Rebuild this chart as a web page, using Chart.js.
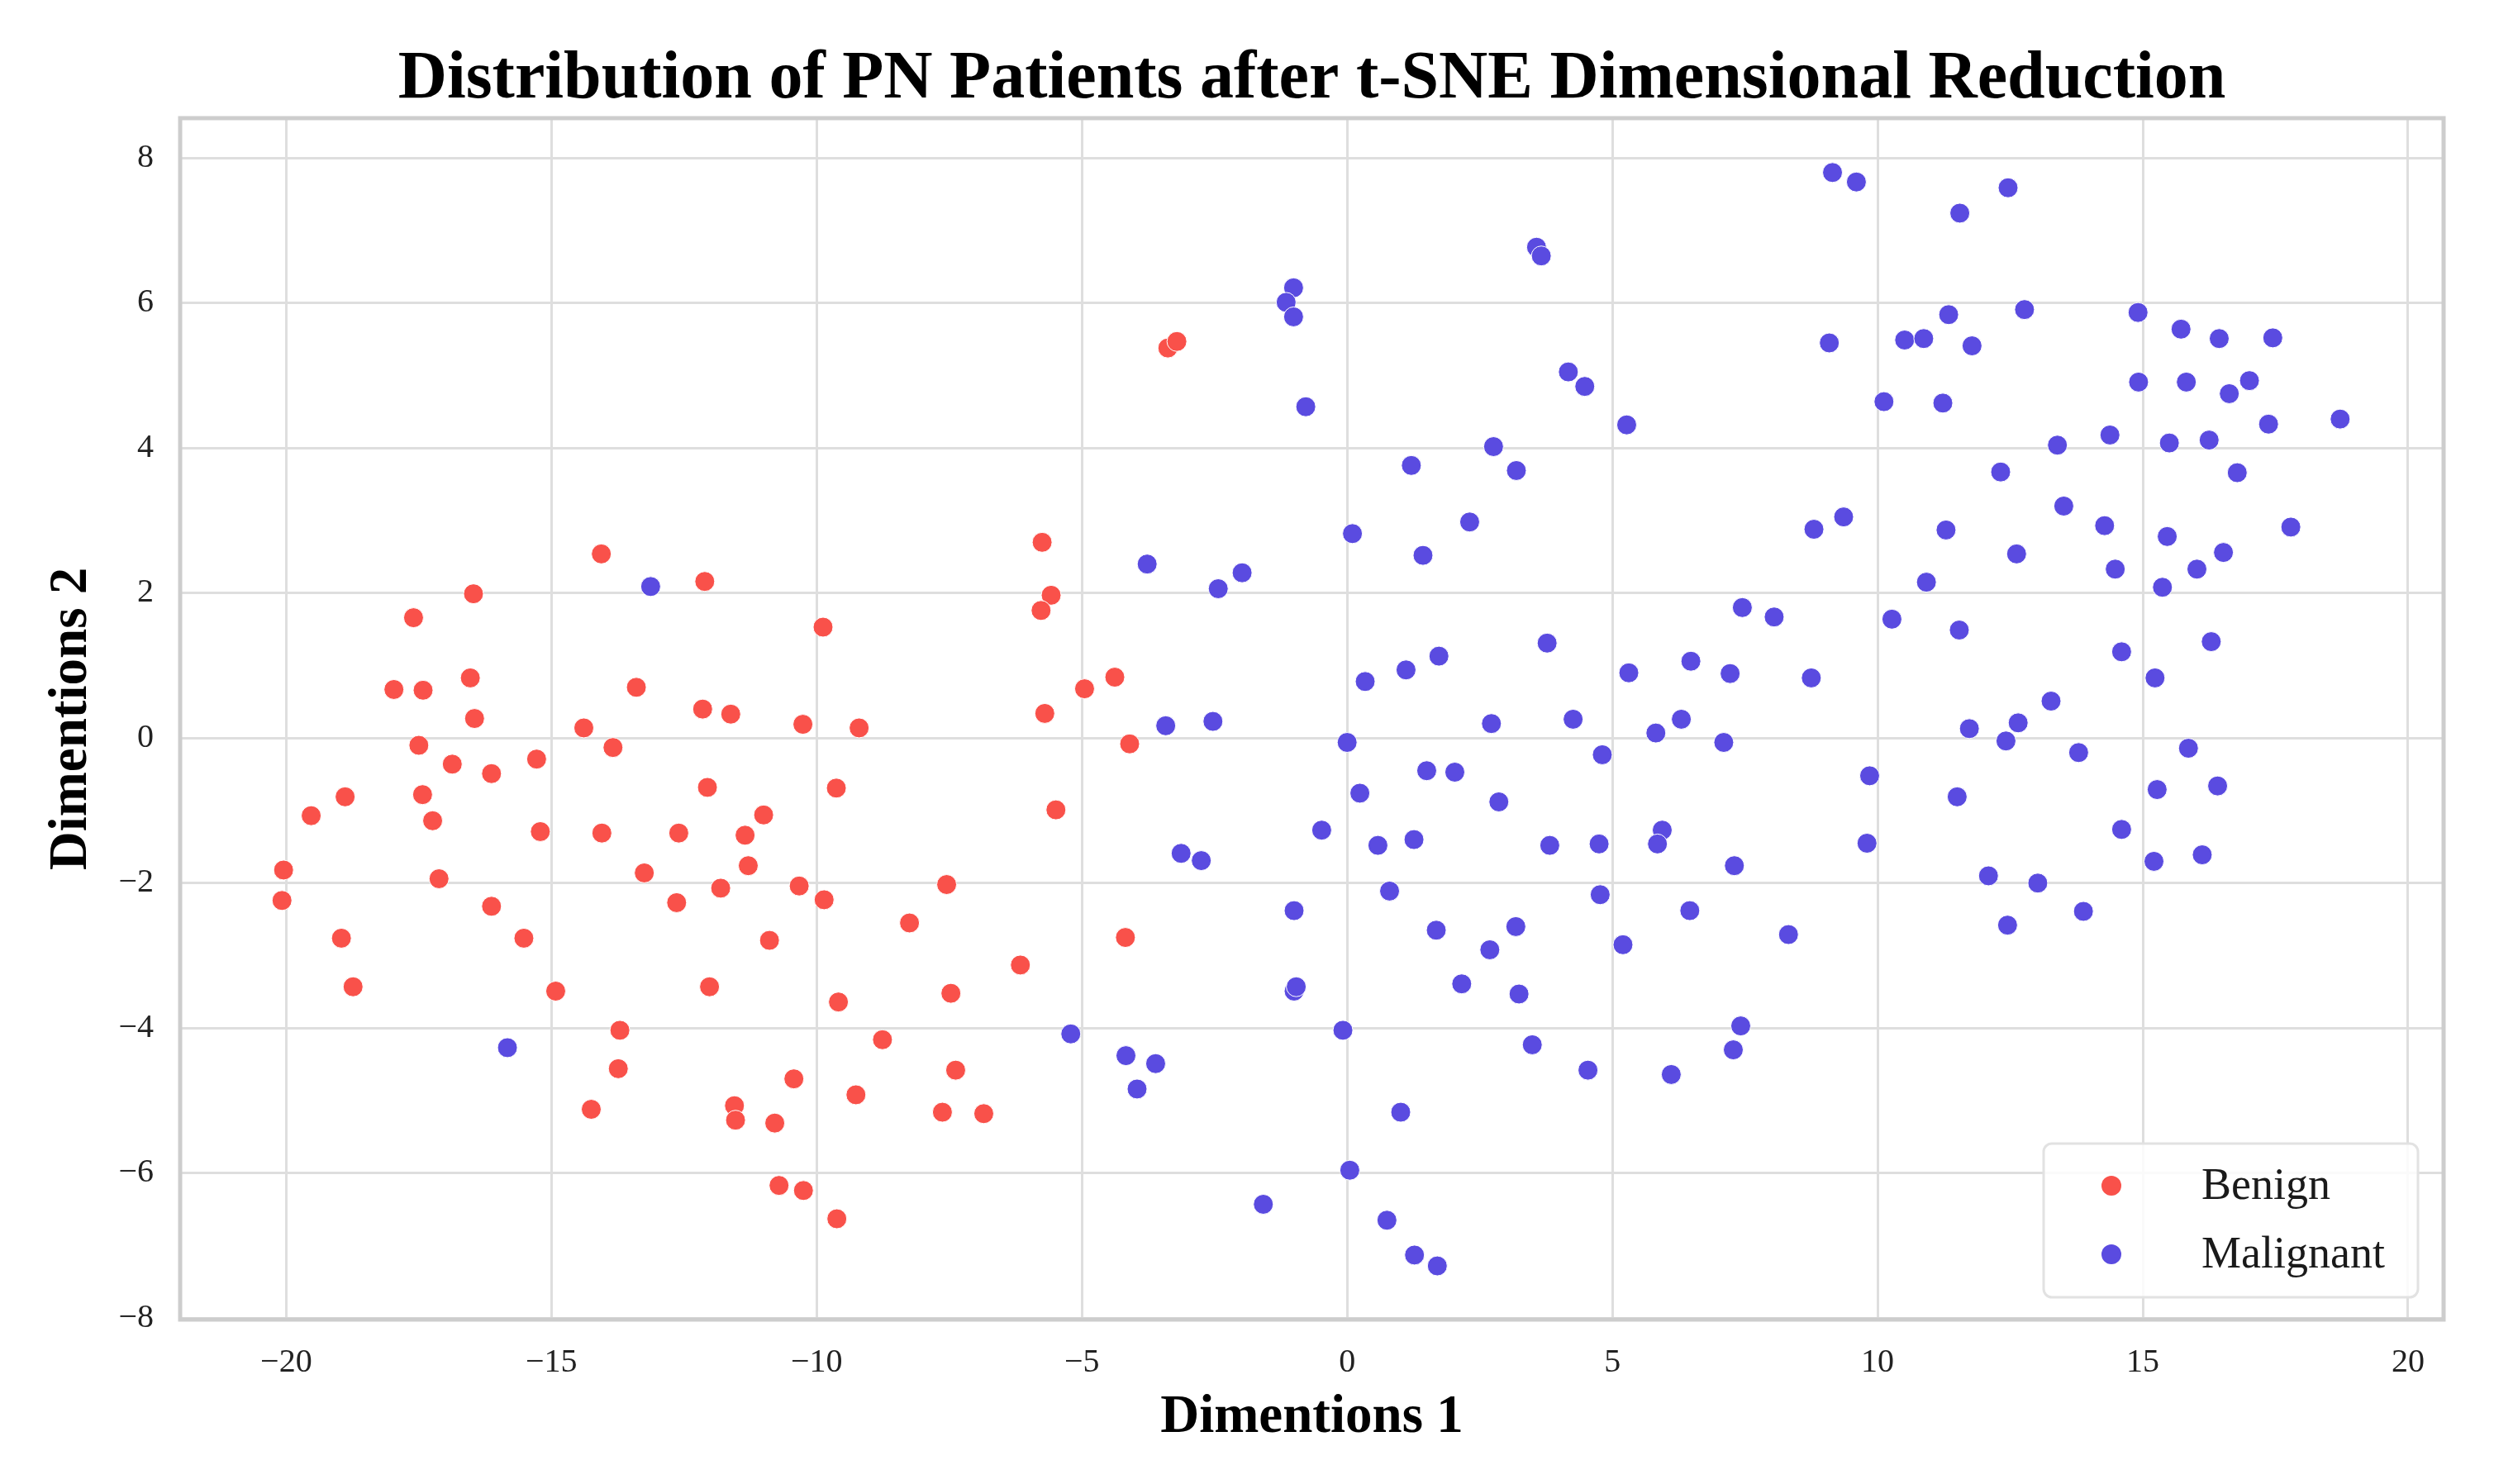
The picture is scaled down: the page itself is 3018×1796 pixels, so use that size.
<!DOCTYPE html>
<html>
<head>
<meta charset="utf-8">
<script src="https://cdn.jsdelivr.net/npm/chart.js@4.4.1/dist/chart.umd.min.js"></script>
<style>
  html, body { margin: 0; padding: 0; background: #fff; }
  #wrap { width: 3018px; height: 1796px; }
</style>
</head>
<body>
<div id="wrap"><canvas id="tsneChart"></canvas></div>
<script>
const seriesNames = ["Benign", "Malignant"];
const seriesColors = ["#F9514A", "#5A4BE0"];

const benignX = [-14.06, -12.11, -16.47, -17.6, -9.88, -17.97, -17.42, -16.53, -13.4, -16.45,
  -12.15, -11.62, -14.39, -10.26, -9.2, -17.5, -16.87, -16.13, -15.28, -13.84,
  -18.89, -19.53, -17.43, -17.24, -15.21, -14.05, -12.6, -12.06, -11.0, -11.35,
  -9.63, -11.29, -20.05, -20.08, -17.12, -13.25, -11.81, -12.64, -10.33, -9.86,
  -8.25, -16.13, -15.52, -18.96, -10.89, -18.74, -14.92, -12.02, -9.59, -13.71,
  -13.74, -8.76, -10.43, -9.26, -14.25, -11.55, -11.53, -10.79, -10.71, -10.25,
  -9.62, -3.38, -3.21, -5.75, -5.58, -5.77, -4.38, -4.95, -5.70, -4.10,
  -5.49, -7.55, -4.18, -6.16, -7.47, -7.38, -7.63, -6.85];
const benignY = [2.54, 2.16, 1.99, 1.66, 1.53, 0.67, 0.66, 0.83, 0.70, 0.27,
  0.40, 0.33, 0.14, 0.19, 0.14, -0.10, -0.36, -0.49, -0.29, -0.13,
  -0.81, -1.07, -0.78, -1.14, -1.29, -1.31, -1.31, -0.68, -1.06, -1.34,
  -0.69, -1.76, -1.82, -2.24, -1.94, -1.86, -2.07, -2.27, -2.04, -2.23,
  -2.55, -2.32, -2.76, -2.76, -2.79, -3.43, -3.49, -3.43, -3.64, -4.03,
  -4.56, -4.16, -4.70, -4.92, -5.12, -5.07, -5.27, -5.31, -6.17, -6.24,
  -6.63, 5.38, 5.47, 2.70, 1.97, 1.76, 0.84, 0.68, 0.34, -0.08,
  -0.99, -2.02, -2.75, -3.13, -3.52, -4.58, -5.16, -5.18];

const malignantX = [-13.13, -15.83, -1.01, -1.15, -1.01, 3.57, 3.66, -0.78, 4.17, 4.48,
  5.27, 2.76, 1.21, 3.19, 0.10, 2.31, 1.43, -3.77, -1.98, -2.43,
  3.77, 1.73, 1.11, 0.34, 5.31, 6.48, -3.42, -2.53, 0.0, 2.72,
  4.26, 6.30, 5.82, 1.5, 2.03, 0.24, 2.86, 4.81, -0.48, 0.58,
  1.26, -3.13, -2.75, 3.82, 4.75, 5.94, 5.85, 0.80, 4.77, 6.46,
  -1.0, 1.68, 3.18, 2.69, 5.2, -1.0, -0.96, 2.16, 3.24, -5.21,
  -0.08, 3.49, -4.17, -3.61, -3.96, 4.54, 6.11, 1.01, 0.05, -1.58,
  0.75, 1.27, 1.70, 9.15, 9.60, 12.46, 11.55, 11.34, 12.77, 14.91,
  9.09, 10.51, 10.87, 11.78, 15.72, 16.44, 17.45, 14.92, 15.82, 17.01,
  16.63, 10.12, 11.23, 17.37, 18.72, 13.39, 14.38, 15.5, 16.25, 12.32,
  16.78, 13.51, 8.80, 9.36, 11.29, 14.28, 15.46, 17.79, 12.62, 14.48,
  16.02, 16.52, 10.92, 15.37, 7.45, 8.05, 10.27, 11.54, 16.29, 14.6,
  7.22, 8.75, 15.23, 13.27, 11.73, 12.65, 12.42, 13.79, 15.86, 7.10,
  9.85, 11.5, 15.27, 16.41, 14.60, 9.80, 7.30, 15.21, 16.12, 12.09,
  13.02, 13.88, 12.45, 8.32, 7.42, 7.28];
const malignantY = [2.09, -4.27, 6.21, 6.01, 5.81, 6.77, 6.65, 4.57, 5.05, 4.85,
  4.32, 4.02, 3.76, 3.69, 2.82, 2.98, 2.52, 2.40, 2.28, 2.06,
  1.31, 1.13, 0.94, 0.78, 0.90, 1.06, 0.17, 0.23, -0.06, 0.20,
  0.26, 0.26, 0.07, -0.45, -0.47, -0.76, -0.88, -0.23, -1.27, -1.48,
  -1.40, -1.59, -1.69, -1.48, -1.46, -1.27, -1.46, -2.11, -2.16, -2.38,
  -2.38, -2.65, -2.60, -2.92, -2.85, -3.49, -3.43, -3.39, -3.53, -4.08,
  -4.03, -4.23, -4.38, -4.49, -4.84, -4.58, -4.64, -5.16, -5.96, -6.43,
  -6.65, -7.13, -7.28, 7.80, 7.67, 7.59, 7.24, 5.84, 5.91, 5.87,
  5.45, 5.49, 5.51, 5.41, 5.64, 5.51, 5.52, 4.91, 4.91, 4.93,
  4.75, 4.64, 4.62, 4.33, 4.40, 4.04, 4.18, 4.07, 4.11, 3.67,
  3.66, 3.20, 2.88, 3.05, 2.87, 2.93, 2.78, 2.91, 2.54, 2.33,
  2.33, 2.56, 2.15, 2.08, 1.80, 1.67, 1.64, 1.49, 1.33, 1.19,
  0.89, 0.83, 0.83, 0.51, 0.13, 0.21, -0.04, -0.20, -0.14, -0.06,
  -0.52, -0.81, -0.71, -0.66, -1.26, -1.45, -1.76, -1.70, -1.61, -1.90,
  -2.00, -2.39, -2.58, -2.71, -3.97, -4.30];

const xTicks = [-20, -15, -10, -5, 0, 5, 10, 15, 20];
const yTicks = [-8, -6, -4, -2, 0, 2, 4, 6, 8];

const serif = "'Liberation Serif', 'DejaVu Serif', serif";

function toPoints(xs, ys) {
  return xs.map((x, i) => ({ x: x, y: ys[i] }));
}
function minusSign(v) {
  return String(v).replace('-', '\u2212');
}

// box around the plot area, like the seaborn frame
const framePlugin = {
  id: 'frame',
  beforeDatasetsDraw(chart) {
    const a = chart.chartArea, ctx = chart.ctx;
    ctx.save();
    ctx.strokeStyle = '#cdcdcd';
    ctx.lineWidth = 5;
    ctx.strokeRect(a.left, a.top, a.right - a.left, a.bottom - a.top);
    ctx.restore();
  }
};

// legend drawn inside the plot, lower right
const innerLegend = {
  id: 'innerLegend',
  afterDatasetsDraw(chart) {
    const a = chart.chartArea, ctx = chart.ctx;
    const w = 453, h = 186;
    const x0 = a.right - 31 - w, y0 = a.bottom - 27 - h;
    ctx.save();
    ctx.fillStyle = 'rgba(255,255,255,0.85)';
    ctx.strokeStyle = '#e2e2e2';
    ctx.lineWidth = 3;
    ctx.beginPath();
    ctx.roundRect(x0, y0, w, h, 10);
    ctx.fill();
    ctx.stroke();
    ctx.font = "54px " + serif;
    ctx.textBaseline = 'middle';
    chart.data.datasets.forEach((ds, i) => {
      const cy = y0 + 51 + i * 83;
      ctx.fillStyle = ds.backgroundColor;
      ctx.beginPath();
      ctx.arc(x0 + 82, cy, 12, 0, Math.PI * 2);
      ctx.fill();
      ctx.fillStyle = '#1a1a1a';
      ctx.fillText(ds.label, x0 + 191, cy + 2);
    });
    ctx.restore();
  }
};

const ctx = document.getElementById('tsneChart');
new Chart(ctx, {
  type: 'scatter',
  data: {
    datasets: [{
      label: seriesNames[0],
      data: toPoints(benignX, benignY),
      backgroundColor: seriesColors[0],
      borderColor: '#ffffff',
      borderWidth: 1,
      pointRadius: 12
    }, {
      label: seriesNames[1],
      data: toPoints(malignantX, malignantY),
      backgroundColor: seriesColors[1],
      borderColor: '#ffffff',
      borderWidth: 1,
      pointRadius: 12
    }]
  },
  options: {
    responsive: true,
    maintainAspectRatio: false,
    animation: false,
    layout: { padding: { left: 0, right: 61, top: 0, bottom: 0 } },
    plugins: {
      legend: { display: false },
      tooltip: { enabled: false },
      title: {
        display: true,
        fullSize: false,
        text: 'Distribution of PN Patients after t-SNE Dimensional Reduction',
        color: '#000',
        font: { family: serif, size: 82, weight: 'bold', lineHeight: 1 },
        padding: { top: 56, bottom: 5 }
      }
    },
    scales: {
      x: {
        type: 'linear',
        min: -22,
        max: 20.67,
        afterFit(scale) { scale.height = 199; },
        afterBuildTicks(scale) { scale.ticks = xTicks.map(v => ({ value: v })); },
        ticks: {
          includeBounds: false,
          padding: 28,
          color: '#222',
          font: { family: serif, size: 40 },
          callback: v => minusSign(v)
        },
        grid: { color: '#dedede', lineWidth: 3, drawTicks: false },
        border: { display: false },
        title: {
          display: true,
          text: 'Dimentions 1',
          color: '#000',
          font: { family: serif, size: 65, weight: 'bold' },
          padding: { top: 4, bottom: 41 }
        }
      },
      y: {
        type: 'linear',
        min: -8.02,
        max: 8.55,
        afterFit(scale) { scale.width = 218; },
        afterBuildTicks(scale) { scale.ticks = yTicks.map(v => ({ value: v })); },
        ticks: {
          includeBounds: false,
          padding: 32,
          color: '#222',
          font: { family: serif, size: 40 },
          callback: v => minusSign(v)
        },
        grid: { color: '#dedede', lineWidth: 3, drawTicks: false },
        border: { display: false },
        title: {
          display: true,
          text: 'Dimentions 2',
          color: '#000',
          font: { family: serif, size: 65, weight: 'bold' },
          padding: { top: 48, bottom: 4 }
        }
      }
    }
  },
  plugins: [framePlugin, innerLegend]
});
</script>
</body>
</html>
